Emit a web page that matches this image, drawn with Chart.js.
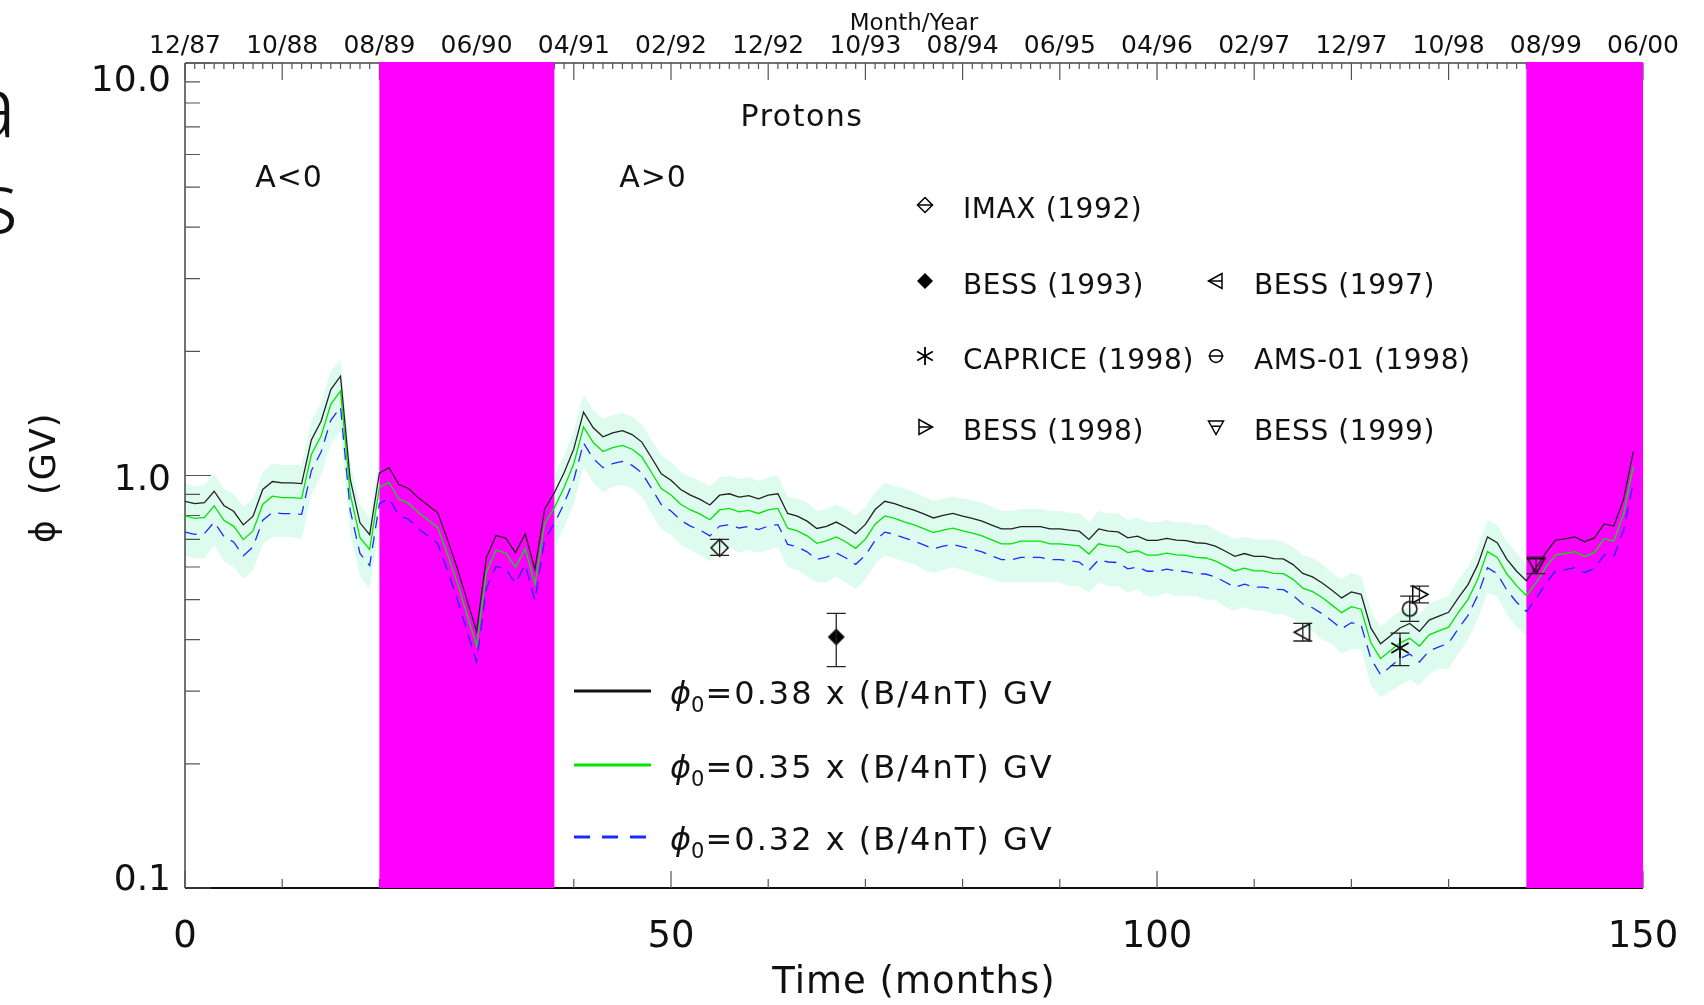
<!DOCTYPE html>
<html>
<head>
<meta charset="utf-8">
<script src="https://cdn.jsdelivr.net/npm/chart.js@4.4.1/dist/chart.umd.min.js"></script>
<style>
  html, body { margin: 0; padding: 0; background: #fff; }
  #wrap { width: 1704px; height: 1005px; }
</style>
</head>
<body>
<div id="wrap"><canvas id="chart" width="1704" height="1005"></canvas></div>
<script>
// modulation potential, one value per month from 12/87
const phi38 = [
  0.866, 0.855, 0.859, 0.916, 0.846, 0.819, 0.759, 0.797, 0.925, 0.967,
  0.960, 0.960, 0.956, 1.22, 1.354, 1.616, 1.741, 0.978, 0.768, 0.719,
  1.015, 1.044, 0.951, 0.930, 0.883, 0.847, 0.812, 0.700, 0.597, 0.500,
  0.419, 0.632, 0.715, 0.705, 0.650, 0.722, 0.592, 0.830, 0.908, 1.015,
  1.16, 1.424, 1.305, 1.241, 1.269, 1.285, 1.257, 1.205, 1.104, 1.010,
  0.974, 0.925, 0.896, 0.875, 0.848, 0.896, 0.903, 0.886, 0.894, 0.878,
  0.896, 0.903, 0.809, 0.797, 0.775, 0.744, 0.753, 0.771, 0.749, 0.723,
  0.761, 0.827, 0.866, 0.855, 0.838, 0.824, 0.807, 0.789, 0.800, 0.809,
  0.797, 0.787, 0.775, 0.758, 0.742, 0.742, 0.752, 0.752, 0.752, 0.742,
  0.742, 0.737, 0.733, 0.700, 0.742, 0.733, 0.730, 0.706, 0.713, 0.696,
  0.696, 0.704, 0.697, 0.695, 0.687, 0.685, 0.674, 0.656, 0.637, 0.647,
  0.637, 0.637, 0.629, 0.628, 0.608, 0.579, 0.568, 0.549, 0.527, 0.505,
  0.522, 0.515, 0.427, 0.391, 0.408, 0.427, 0.438, 0.419, 0.446, 0.456,
  0.466, 0.505, 0.544, 0.608, 0.710, 0.687, 0.626, 0.586, 0.556, 0.597,
  0.650, 0.697, 0.702, 0.710, 0.691, 0.706, 0.763, 0.754, 0.875, 1.141,
];
const phi35 = [
  0.798, 0.787, 0.791, 0.844, 0.779, 0.754, 0.699, 0.734, 0.852, 0.891,
  0.884, 0.884, 0.880, 1.124, 1.247, 1.488, 1.603, 0.901, 0.707, 0.662,
  0.935, 0.962, 0.876, 0.857, 0.813, 0.780, 0.748, 0.645, 0.550, 0.461,
  0.386, 0.582, 0.659, 0.649, 0.599, 0.665, 0.545, 0.764, 0.836, 0.935,
  1.068, 1.312, 1.202, 1.143, 1.169, 1.183, 1.158, 1.110, 1.017, 0.930,
  0.897, 0.852, 0.825, 0.806, 0.781, 0.825, 0.832, 0.816, 0.823, 0.809,
  0.825, 0.832, 0.745, 0.734, 0.714, 0.685, 0.694, 0.710, 0.690, 0.666,
  0.701, 0.762, 0.798, 0.787, 0.772, 0.759, 0.743, 0.727, 0.737, 0.745,
  0.734, 0.725, 0.714, 0.698, 0.683, 0.683, 0.693, 0.693, 0.693, 0.683,
  0.683, 0.679, 0.675, 0.645, 0.683, 0.675, 0.672, 0.650, 0.657, 0.641,
  0.641, 0.648, 0.642, 0.640, 0.633, 0.631, 0.621, 0.604, 0.587, 0.596,
  0.587, 0.587, 0.579, 0.578, 0.560, 0.533, 0.523, 0.506, 0.485, 0.465,
  0.481, 0.474, 0.393, 0.360, 0.376, 0.393, 0.403, 0.386, 0.411, 0.420,
  0.429, 0.465, 0.501, 0.560, 0.654, 0.633, 0.577, 0.540, 0.512, 0.550,
  0.599, 0.642, 0.647, 0.654, 0.636, 0.650, 0.703, 0.694, 0.806, 1.051,
];
const phi32 = [
  0.729, 0.720, 0.723, 0.771, 0.712, 0.690, 0.639, 0.671, 0.779, 0.814,
  0.808, 0.808, 0.805, 1.027, 1.140, 1.361, 1.466, 0.823, 0.647, 0.605,
  0.855, 0.879, 0.801, 0.783, 0.743, 0.713, 0.684, 0.589, 0.503, 0.421,
  0.353, 0.532, 0.602, 0.594, 0.547, 0.608, 0.498, 0.699, 0.765, 0.855,
  0.977, 1.199, 1.099, 1.045, 1.068, 1.082, 1.058, 1.015, 0.930, 0.850,
  0.820, 0.779, 0.754, 0.737, 0.714, 0.754, 0.760, 0.746, 0.753, 0.739,
  0.754, 0.760, 0.681, 0.671, 0.653, 0.626, 0.634, 0.649, 0.631, 0.609,
  0.641, 0.696, 0.729, 0.720, 0.706, 0.694, 0.679, 0.664, 0.674, 0.681,
  0.671, 0.663, 0.653, 0.638, 0.625, 0.625, 0.633, 0.633, 0.633, 0.625,
  0.625, 0.621, 0.617, 0.589, 0.625, 0.617, 0.615, 0.594, 0.600, 0.586,
  0.586, 0.593, 0.587, 0.585, 0.578, 0.577, 0.568, 0.552, 0.536, 0.545,
  0.536, 0.536, 0.530, 0.529, 0.512, 0.488, 0.478, 0.462, 0.444, 0.425,
  0.440, 0.434, 0.360, 0.329, 0.344, 0.360, 0.369, 0.353, 0.376, 0.384,
  0.392, 0.425, 0.458, 0.512, 0.598, 0.578, 0.527, 0.493, 0.468, 0.503,
  0.547, 0.587, 0.591, 0.598, 0.582, 0.594, 0.642, 0.635, 0.737, 0.961,
];
const bandUpper = [
  0.96, 0.94, 0.95, 1.01, 0.93, 0.90, 0.84, 0.88, 1.02, 1.07,
  1.06, 1.06, 1.06, 1.35, 1.50, 1.79, 1.92, 1.08, 0.85, 0.79,
  1.12, 1.15, 1.05, 1.03, 0.98, 0.94, 0.90, 0.77, 0.66, 0.55,
  0.46, 0.70, 0.79, 0.78, 0.72, 0.80, 0.65, 0.92, 1.00, 1.12,
  1.28, 1.57, 1.44, 1.37, 1.40, 1.42, 1.39, 1.33, 1.22, 1.12,
  1.08, 1.02, 0.99, 0.97, 0.94, 0.99, 1.00, 0.98, 0.99, 0.97,
  0.99, 1.00, 0.89, 0.88, 0.86, 0.82, 0.83, 0.85, 0.83, 0.80,
  0.84, 0.91, 0.96, 0.94, 0.93, 0.91, 0.89, 0.87, 0.88, 0.89,
  0.88, 0.87, 0.86, 0.84, 0.82, 0.82, 0.83, 0.83, 0.83, 0.82,
  0.82, 0.81, 0.81, 0.77, 0.82, 0.81, 0.81, 0.78, 0.79, 0.77,
  0.77, 0.78, 0.77, 0.77, 0.76, 0.76, 0.74, 0.72, 0.70, 0.71,
  0.70, 0.70, 0.70, 0.69, 0.67, 0.64, 0.63, 0.61, 0.58, 0.56,
  0.58, 0.57, 0.47, 0.43, 0.45, 0.47, 0.48, 0.46, 0.49, 0.50,
  0.51, 0.56, 0.60, 0.67, 0.78, 0.76, 0.69, 0.65, 0.61, 0.66,
  0.72, 0.77, 0.78, 0.78, 0.76, 0.78, 0.84, 0.83, 0.97, 1.26,
];
const bandLower = [
  0.64, 0.63, 0.63, 0.68, 0.62, 0.60, 0.56, 0.59, 0.68, 0.71,
  0.71, 0.71, 0.70, 0.90, 1.00, 1.19, 1.28, 0.72, 0.57, 0.53,
  0.75, 0.77, 0.70, 0.69, 0.65, 0.62, 0.60, 0.52, 0.44, 0.37,
  0.31, 0.47, 0.53, 0.52, 0.48, 0.53, 0.44, 0.61, 0.67, 0.75,
  0.85, 1.05, 0.96, 0.91, 0.94, 0.95, 0.93, 0.89, 0.81, 0.74,
  0.72, 0.68, 0.66, 0.64, 0.62, 0.66, 0.67, 0.65, 0.66, 0.65,
  0.66, 0.67, 0.60, 0.59, 0.57, 0.55, 0.55, 0.57, 0.55, 0.53,
  0.56, 0.61, 0.64, 0.63, 0.62, 0.61, 0.59, 0.58, 0.59, 0.60,
  0.59, 0.58, 0.57, 0.56, 0.55, 0.55, 0.55, 0.55, 0.55, 0.55,
  0.55, 0.54, 0.54, 0.52, 0.55, 0.54, 0.54, 0.52, 0.53, 0.51,
  0.51, 0.52, 0.51, 0.51, 0.51, 0.50, 0.50, 0.48, 0.47, 0.48,
  0.47, 0.47, 0.46, 0.46, 0.45, 0.43, 0.42, 0.40, 0.39, 0.37,
  0.38, 0.38, 0.31, 0.29, 0.30, 0.31, 0.32, 0.31, 0.33, 0.34,
  0.34, 0.37, 0.40, 0.45, 0.52, 0.51, 0.46, 0.43, 0.41, 0.44,
  0.48, 0.51, 0.52, 0.52, 0.51, 0.52, 0.56, 0.56, 0.64, 0.84,
];

// balloon / shuttle measurements
const expNames = ['IMAX (1992)', 'BESS (1993)', 'BESS (1997)', 'CAPRICE (1998)', 'AMS-01 (1998)', 'BESS (1998)', 'BESS (1999)'];
const expSymbols = ['diamond', 'diamondFilled', 'triLeft', 'asterisk', 'circle', 'triRight', 'triDown'];
const expMonths = [55, 67, 115, 125, 126, 127, 139];
const expPhi = [0.668, 0.406, 0.417, 0.382, 0.475, 0.515, 0.606];
const expErrLow = [0.640, 0.344, 0.397, 0.346, 0.443, 0.491, 0.578];
const expErrHigh = [0.700, 0.463, 0.438, 0.415, 0.510, 0.539, 0.634];

// periods of field reversal (magenta)
const reversalStart = [20, 138];
const reversalEnd = [38, 150];

const dateTicks = [0, 10, 20, 30, 40, 50, 60, 70, 80, 90, 100, 110, 120, 130, 140, 150];
const dateLabels = ['12/87', '10/88', '08/89', '06/90', '04/91', '02/92', '12/92', '10/93',
  '08/94', '06/95', '04/96', '02/97', '12/97', '10/98', '08/99', '06/00'];
const timeTicks = [0, 50, 100, 150];
const phiTicks = [0.1, 1, 10];
const phiTickLabels = ['0.1', '1.0', '10.0'];

const modelLabels = ['0.38', '0.35', '0.32'];
const modelColors = ['#111111', '#00e600', '#1a2bff'];

const FONT = '"DejaVu Sans", "Liberation Sans", sans-serif';
const MAGENTA = '#ff00ff';
const BAND = '#ddfbef';

const months = phi38.map((_, i) => i);
const toXY = (arr) => arr.map((v, i) => ({ x: months[i], y: v }));

const drawSymbol = (ctx, kind, x, y, r, midline) => {
  ctx.save();
  ctx.strokeStyle = '#000';
  ctx.fillStyle = '#000';
  ctx.lineWidth = kind === 'asterisk' ? 1.8 : 1.5;
  ctx.beginPath();
  if (kind === 'diamond' || kind === 'diamondFilled') {
    ctx.moveTo(x, y - r);
    ctx.lineTo(x + r, y);
    ctx.lineTo(x, y + r);
    ctx.lineTo(x - r, y);
    ctx.closePath();
  } else if (kind === 'triLeft') {
    ctx.moveTo(x - r, y);
    ctx.lineTo(x + r * 0.8, y - r);
    ctx.lineTo(x + r * 0.8, y + r);
    ctx.closePath();
  } else if (kind === 'triRight') {
    ctx.moveTo(x + r, y);
    ctx.lineTo(x - r * 0.8, y - r);
    ctx.lineTo(x - r * 0.8, y + r);
    ctx.closePath();
  } else if (kind === 'triDown') {
    ctx.moveTo(x, y + r);
    ctx.lineTo(x - r, y - r * 0.8);
    ctx.lineTo(x + r, y - r * 0.8);
    ctx.closePath();
  } else if (kind === 'circle') {
    ctx.arc(x, y, r * 0.85, 0, Math.PI * 2);
  } else if (kind === 'asterisk') {
    [90, 30, 150].forEach((a) => {
      const dx = Math.cos(a * Math.PI / 180) * r;
      const dy = Math.sin(a * Math.PI / 180) * r;
      ctx.moveTo(x - dx, y - dy);
      ctx.lineTo(x + dx, y + dy);
    });
  }
  if (kind === 'diamondFilled') ctx.fill();
  else ctx.stroke();
  if (midline && kind !== 'asterisk' && kind !== 'diamondFilled') {
    ctx.beginPath();
    if (kind === 'triLeft') { ctx.moveTo(x - r, y); ctx.lineTo(x + r * 0.8, y); }
    else if (kind === 'triRight') { ctx.moveTo(x - r * 0.8, y); ctx.lineTo(x + r, y); }
    else if (kind === 'triDown') { ctx.moveTo(x - r * 0.55, y - r * 0.1); ctx.lineTo(x + r * 0.55, y - r * 0.1); }
    else { ctx.moveTo(x - r, y); ctx.lineTo(x + r, y); }
    ctx.stroke();
  }
  ctx.restore();
};

const makeSymbol = (kind, r) => {
  const c = document.createElement('canvas');
  const s = Math.ceil(2 * r + 4);
  c.width = s;
  c.height = s;
  drawSymbol(c.getContext('2d'), kind, s / 2, s / 2, r, false);
  return c;
};

const text = (ctx, str, x, y, size, align = 'left', spacing = 0, style = '', family = FONT) => {
  ctx.font = `${style}${size}px ${family}`;
  ctx.letterSpacing = `${spacing}px`;
  ctx.textAlign = align;
  ctx.textBaseline = 'alphabetic';
  ctx.fillStyle = '#111';
  ctx.fillText(str, x, y);
  const w = ctx.measureText(str).width;
  ctx.letterSpacing = '0px';
  return w;
};

const framePlugin = {
  id: 'frame',
  beforeDatasetsDraw(chart) {
    const { ctx, chartArea: a } = chart;
    const xs = chart.scales.x;
    const ys = chart.scales.y;
    ctx.save();
    ctx.strokeStyle = '#444';
    ctx.lineWidth = 1.5;
    ctx.beginPath();
    ctx.moveTo(a.left, a.top);
    ctx.lineTo(a.right, a.top);
    ctx.moveTo(a.left, a.top);
    ctx.lineTo(a.left, a.bottom);
    ctx.stroke();
    ctx.strokeStyle = '#111';
    ctx.lineWidth = 2;
    ctx.beginPath();
    ctx.moveTo(a.left, a.bottom);
    ctx.lineTo(a.right, a.bottom);
    ctx.stroke();

    ctx.strokeStyle = '#555';
    ctx.lineWidth = 1.2;
    ctx.beginPath();
    for (let m = 0; m <= 150; m++) {
      const px = xs.getPixelForValue(m);
      const len = m % 10 === 0 ? 17 : 6;
      ctx.moveTo(px, a.top);
      ctx.lineTo(px, a.top + len);
      if (m % 10 === 0) {
        const lb = m % 50 === 0 ? 17 : 9;
        ctx.moveTo(px, a.bottom);
        ctx.lineTo(px, a.bottom - lb);
      }
    }
    [0.1, 1].forEach((dec) => {
      for (let k = 1; k <= 9; k++) {
        const py = ys.getPixelForValue(dec * k);
        const len = k === 1 ? 26 : 15;
        ctx.moveTo(a.left, py);
        ctx.lineTo(a.left + len, py);
      }
    });
    ctx.moveTo(a.left, ys.getPixelForValue(10));
    ctx.lineTo(a.left + 26, ys.getPixelForValue(10));
    ctx.stroke();

    ctx.fillStyle = MAGENTA;
    reversalStart.forEach((s, i) => {
      const x0 = xs.getPixelForValue(s);
      const x1 = xs.getPixelForValue(reversalEnd[i]);
      ctx.fillRect(x0, a.top - 1, x1 - x0, a.bottom - a.top + 1);
    });
    ctx.restore();
  },
  afterDatasetsDraw(chart) {
    const { ctx } = chart;
    const xs = chart.scales.x;
    const ys = chart.scales.y;
    ctx.save();
    ctx.strokeStyle = '#222';
    ctx.lineWidth = 1.3;
    ctx.beginPath();
    expMonths.forEach((m, i) => {
      const px = xs.getPixelForValue(m);
      const lo = ys.getPixelForValue(expErrLow[i]);
      const hi = ys.getPixelForValue(expErrHigh[i]);
      ctx.moveTo(px, lo);
      ctx.lineTo(px, hi);
      ctx.moveTo(px - 9.5, lo);
      ctx.lineTo(px + 9.5, lo);
      ctx.moveTo(px - 9.5, hi);
      ctx.lineTo(px + 9.5, hi);
    });
    ctx.stroke();
    ctx.restore();
  },
  afterDraw(chart) {
    const { ctx, chartArea: a } = chart;
    const xs = chart.scales.x;
    ctx.save();

    // fragments of neighbouring slide text
    const thin = '"Noto Sans", "Open Sans", sans-serif';
    text(ctx, 'a', 16, 137, 84, 'right', 0, '300 ', thin);
    text(ctx, 's', 18, 233, 84, 'right', 0, '300 ', thin);

    // top date axis
    text(ctx, 'Month/Year', (a.left + a.right) / 2, 30, 23, 'center');
    dateTicks.forEach((m, i) => {
      text(ctx, dateLabels[i], xs.getPixelForValue(m), 53, 25, 'center');
    });

    // bottom axis
    timeTicks.forEach((m) => {
      text(ctx, String(m), xs.getPixelForValue(m), 947, 37, 'center');
    });
    text(ctx, 'Time (months)', (a.left + a.right) / 2, 993, 37, 'center', 1);

    // left axis
    const phiLabelY = [890, 490, 91];
    phiTicks.forEach((v, i) => {
      text(ctx, phiTickLabels[i], 171, phiLabelY[i], 36, 'right');
    });
    ctx.save();
    ctx.translate(55, 478);
    ctx.rotate(-Math.PI / 2);
    text(ctx, 'ϕ  (GV)', 0, 0, 35, 'center', 1);
    ctx.restore();

    // annotations
    text(ctx, 'Protons', 802, 126, 30, 'center', 1.5);
    text(ctx, 'A<0', 289, 187, 30, 'center', 1);
    text(ctx, 'A>0', 653, 187, 30, 'center', 1);

    // experiment legend
    const legendPos = [
      [925, 205], [925, 281], [1216, 281], [925, 356], [1216, 356], [925, 427], [1216, 427],
    ];
    const symR = [7.5, 8, 7.5, 9, 7.5, 7.5, 7.5];
    expNames.forEach((name, i) => {
      const [sx, sy] = legendPos[i];
      drawSymbol(ctx, expSymbols[i], sx, sy, symR[i], true);
      text(ctx, name, sx + 38, sy + 13, 28, 'left', 0.6);
    });

    // model legend
    const rowY = [691, 765, 837];
    modelLabels.forEach((lab, i) => {
      const y = rowY[i];
      ctx.save();
      ctx.strokeStyle = modelColors[i];
      ctx.lineWidth = 3;
      if (i === 2) ctx.setLineDash([16, 12]);
      ctx.beginPath();
      ctx.moveTo(574, y);
      ctx.lineTo(651, y);
      ctx.stroke();
      ctx.restore();
      let x = 670;
      x += text(ctx, 'ϕ', x, y + 13, 32, 'left', 0, 'italic ');
      x += text(ctx, '0', x, y + 21, 21, 'left', 0);
      text(ctx, `=${lab} x (B/4nT) GV`, x + 1, y + 13, 32, 'left', 2);
    });
    ctx.restore();
  },
};

const pointDatasets = expNames.map((name, i) => ({
  label: name,
  data: [{ x: expMonths[i], y: expPhi[i] }],
  showLine: false,
  pointStyle: makeSymbol(expSymbols[i], expSymbols[i] === 'asterisk' ? 10 : 8.5),
  pointRadius: 8,
  order: 1,
}));

new Chart(document.getElementById('chart'), {
  type: 'line',
  data: {
    datasets: [
      {
        label: 'band upper',
        data: toXY(bandUpper),
        borderColor: 'rgba(0,0,0,0)',
        borderWidth: 1,
        backgroundColor: BAND,
        fill: '+1',
        pointRadius: 0,
        order: 10,
      },
      {
        label: 'band lower',
        data: toXY(bandLower),
        borderColor: 'rgba(0,0,0,0)',
        borderWidth: 1,
        fill: false,
        pointRadius: 0,
        order: 9,
      },
      {
        label: 'phi0 = 0.32',
        data: toXY(phi32),
        borderColor: modelColors[2],
        borderWidth: 1.3,
        borderDash: [12, 8],
        pointRadius: 0,
        fill: false,
        order: 4,
      },
      {
        label: 'phi0 = 0.35',
        data: toXY(phi35),
        borderColor: modelColors[1],
        borderWidth: 1.3,
        pointRadius: 0,
        fill: false,
        order: 3,
      },
      {
        label: 'phi0 = 0.38',
        data: toXY(phi38),
        borderColor: '#222',
        borderWidth: 1.3,
        pointRadius: 0,
        fill: false,
        order: 2,
      },
      ...pointDatasets,
    ],
  },
  options: {
    responsive: false,
    animation: false,
    layout: { padding: { left: 185, top: 63, right: 61, bottom: 117 } },
    elements: { line: { tension: 0 } },
    scales: {
      x: { type: 'linear', min: 0, max: 150, display: false },
      y: { type: 'logarithmic', min: 0.1, max: 10, display: false },
    },
    plugins: {
      legend: { display: false },
      tooltip: { enabled: false },
      filler: { drawTime: 'beforeDatasetsDraw' },
    },
  },
  plugins: [framePlugin],
});
</script>
</body>
</html>
